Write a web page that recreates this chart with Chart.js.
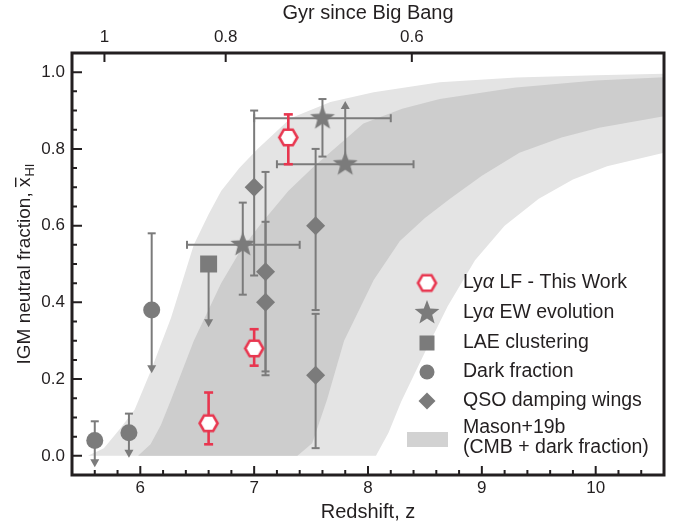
<!DOCTYPE html>
<html>
<head>
<meta charset="utf-8">
<script src="https://cdn.jsdelivr.net/npm/chart.js@4.4.0/dist/chart.umd.min.js"></script>
<style>
  html, body { margin: 0; padding: 0; background: #fff; }
</style>
</head>
<body>
<canvas id="myChart" width="678" height="527"></canvas>
<script>
// Lya LF - this work
const lfZ = [6.6, 7.0, 7.3];
const lfX = [0.085, 0.28, 0.83];
const lfLow = [0.03, 0.235, 0.76];
const lfHigh = [0.165, 0.33, 0.89];

// Lya EW evolution
const ewZ = [6.9, 7.6, 7.8];
const ewX = [0.55, 0.88, 0.76];
const ewLow = [0.42, 0.78, null];
const ewHigh = [0.66, 0.93, null];
const ewLimitUp = [null, null, 0.925];
const ewZLow = [6.41, 7.0, 7.2];
const ewZHigh = [7.4, 8.2, 8.4];

// LAE clustering (upper limit)
const laeZ = [6.6];
const laeX = [0.50];
const laeLimitDown = [0.335];

// dark fraction
const darkZ = [5.6, 5.9, 6.1];
const darkX = [0.04, 0.06, 0.38];
const darkHigh = [0.09, 0.11, 0.58];
const darkLimitDown = [-0.03, -0.005, 0.215];

// QSO damping wings
const qsoZ = [7.0, 7.1, 7.1, 7.54, 7.54];
const qsoX = [0.70, 0.48, 0.40, 0.60, 0.21];
const qsoLow = [0.47, 0.22, 0.21, 0.38, 0.02];
const qsoHigh = [0.90, 0.74, 0.61, 0.80, 0.37];

// Mason+19b band edges, [z, xHI]
const outerTop = [[5.54,0],[5.68,0.02],[5.82,0.07],[5.95,0.12],[6.09,0.22],[6.27,0.36],[6.47,0.55],[6.6,0.63],[6.71,0.69],[6.87,0.75],[7.03,0.80],[7.32,0.88],[7.67,0.922],[8.05,0.948],[8.63,0.974],[9.3,0.986],[10.0,0.992],[10.6,0.996]];
const outerBottom = [[5.54,0],[8.07,0],[8.18,0.06],[8.29,0.14],[8.5,0.27],[8.7,0.39],[8.94,0.51],[9.2,0.6],[9.5,0.67],[9.8,0.72],[10.1,0.755],[10.6,0.79]];
const innerTop = [[5.98,0],[6.09,0.03],[6.18,0.08],[6.27,0.146],[6.47,0.30],[6.71,0.45],[6.88,0.535],[7.06,0.605],[7.3,0.69],[7.52,0.753],[7.96,0.866],[8.3,0.905],[8.63,0.93],[9.3,0.96],[10.0,0.978],[10.6,0.987]];
const innerBottom = [[5.98,0],[7.38,0],[7.51,0.033],[7.64,0.146],[7.79,0.30],[8.05,0.458],[8.28,0.56],[8.5,0.62],[8.72,0.67],[9.0,0.73],[9.33,0.79],[9.7,0.83],[10.03,0.855],[10.6,0.885]];

// axes
const zTicks = [6, 7, 8, 9, 10];
const xhiTicks = [0, 0.2, 0.4, 0.6, 0.8, 1.0];
const gyrTickZ = [5.685, 6.75, 8.385];
const gyrTickLabels = ['1', '0.8', '0.6'];

const legendLabels = ['LF - This Work', 'EW evolution', 'LAE clustering', 'Dark fraction', 'QSO damping wings', 'Mason+19b', '(CMB + dark fraction)'];

const ink = '#231f20';
const grey = '#7b7b7b';
const red = '#e8364f';
const font = '"Liberation Sans", Arial, sans-serif';

function pts(xs, ys) { return xs.map((v, i) => ({x: v, y: ys[i]})); }
function polygon(top, bottom) {
  return top.concat(bottom.slice().reverse()).map(p => ({x: p[0], y: p[1]}));
}

function hexImage(r, lw) {
  const c = document.createElement('canvas');
  const s = Math.ceil(2 * r + lw + 2);
  c.width = s; c.height = s;
  const g = c.getContext('2d');
  g.translate(s / 2, s / 2);
  g.beginPath();
  for (let k = 0; k < 6; k++) {
    const a = k * Math.PI / 3;
    if (k) g.lineTo(r * Math.cos(a), r * Math.sin(a)); else g.moveTo(r, 0);
  }
  g.closePath();
  g.fillStyle = '#fff'; g.fill();
  g.lineWidth = lw; g.strokeStyle = red; g.stroke();
  return c;
}

function starImage(R) {
  const c = document.createElement('canvas');
  const s = Math.ceil(2 * R + 2);
  c.width = s; c.height = s;
  const g = c.getContext('2d');
  g.translate(s / 2, s / 2);
  g.beginPath();
  for (let k = 0; k < 10; k++) {
    const a = -Math.PI / 2 + k * Math.PI / 5;
    const rr = k % 2 ? R * 0.42 : R;
    if (k) g.lineTo(rr * Math.cos(a), rr * Math.sin(a)); else g.moveTo(0, -R);
  }
  g.closePath();
  g.fillStyle = grey; g.fill();
  return c;
}

const hexImg = hexImage(9, 2.6);
const starImg = starImage(13);

function drawErrorBars(chart) {
  const {ctx, scales} = chart;
  const X = v => scales.x.getPixelForValue(v);
  const Y = v => scales.y.getPixelForValue(v);
  const line = (x1, y1, x2, y2) => { ctx.beginPath(); ctx.moveTo(x1, y1); ctx.lineTo(x2, y2); ctx.stroke(); };
  const hcap = (x, y, w) => line(x - w, y, x + w, y);
  const vcap = (x, y, h) => line(x, y - h, x, y + h);
  const arrow = (x, tip, dir) => {
    ctx.beginPath();
    ctx.moveTo(x, tip);
    ctx.lineTo(x - 4.5, tip - dir * 8);
    ctx.lineTo(x + 4.5, tip - dir * 8);
    ctx.closePath(); ctx.fill();
  };
  ctx.save();
  ctx.strokeStyle = grey; ctx.fillStyle = grey; ctx.lineWidth = 2;

  darkZ.forEach((z, i) => {
    const px = X(z);
    line(px, Y(darkHigh[i]), px, Y(darkLimitDown[i]) - 7);
    hcap(px, Y(darkHigh[i]), 4);
    arrow(px, Y(darkLimitDown[i]), 1);
  });
  laeZ.forEach((z, i) => {
    const px = X(z);
    line(px, Y(laeX[i]), px, Y(laeLimitDown[i]) - 7);
    arrow(px, Y(laeLimitDown[i]), 1);
  });
  qsoZ.forEach((z, i) => {
    const px = X(z);
    line(px, Y(qsoLow[i]), px, Y(qsoHigh[i]));
    hcap(px, Y(qsoLow[i]), 4);
    hcap(px, Y(qsoHigh[i]), 4);
  });
  ewZ.forEach((z, i) => {
    const px = X(z), py = Y(ewX[i]);
    line(X(ewZLow[i]), py, X(ewZHigh[i]), py);
    vcap(X(ewZLow[i]), py, 4);
    vcap(X(ewZHigh[i]), py, 4);
    if (ewLimitUp[i] !== null) {
      line(px, py, px, Y(ewLimitUp[i]) + 7);
      arrow(px, Y(ewLimitUp[i]), -1);
    } else {
      line(px, Y(ewLow[i]), px, Y(ewHigh[i]));
      hcap(px, Y(ewLow[i]), 4);
      hcap(px, Y(ewHigh[i]), 4);
    }
  });

  ctx.strokeStyle = red; ctx.lineWidth = 2.6;
  lfZ.forEach((z, i) => {
    const px = X(z);
    line(px, Y(lfLow[i]), px, Y(lfHigh[i]));
    hcap(px, Y(lfLow[i]), 4.5);
    hcap(px, Y(lfHigh[i]), 4.5);
  });
  ctx.restore();
}

function drawFrame(chart) {
  const {ctx, chartArea: a, scales} = chart;
  ctx.save();
  ctx.strokeStyle = ink;
  ctx.lineWidth = 2;
  ctx.beginPath();
  for (let k = 28; k <= 52; k++) {
    const z = k / 5;
    if (z <= 5.4 || z >= 10.6) continue;
    const px = scales.x.getPixelForValue(z);
    const len = (k % 5 === 0) ? 9 : 5;
    ctx.moveTo(px, a.bottom); ctx.lineTo(px, a.bottom - len);
  }
  for (let k = 0; k <= 20; k++) {
    const py = scales.y.getPixelForValue(k * 0.05);
    const len = (k % 4 === 0) ? 10 : 5;
    ctx.moveTo(a.left, py); ctx.lineTo(a.left + len, py);
  }
  gyrTickZ.forEach(z => {
    const px = scales.x2.getPixelForValue(z);
    ctx.moveTo(px, a.top); ctx.lineTo(px, a.top + 9);
  });
  ctx.stroke();
  ctx.lineWidth = 3;
  ctx.strokeRect(a.left, a.top, a.right - a.left, a.bottom - a.top);
  ctx.restore();
}

function drawYTitle(chart) {
  const {ctx} = chart;
  ctx.save();
  ctx.fillStyle = ink;
  ctx.translate(30, 264);
  ctx.rotate(-Math.PI / 2);
  ctx.textBaseline = 'alphabetic';
  const main = 'IGM neutral fraction, ';
  const sub = 'HI';
  ctx.font = '19px ' + font;
  const w1 = ctx.measureText(main).width;
  const wx = ctx.measureText('x').width;
  ctx.font = '13px ' + font;
  const w3 = ctx.measureText(sub).width;
  const x0 = -(w1 + wx + 1 + w3) / 2;
  ctx.font = '19px ' + font;
  ctx.textAlign = 'left';
  ctx.fillText(main, x0, 0);
  ctx.fillText('x', x0 + w1, 0);
  ctx.fillRect(x0 + w1, -15, wx, 1.4);
  ctx.font = '13px ' + font;
  ctx.fillText(sub, x0 + w1 + wx + 1, 4);
  ctx.restore();
}

function drawLegend(chart) {
  const {ctx} = chart;
  const mx = 427, tx = 463;
  const rows = [283, 313, 343, 372, 401];
  ctx.save();
  ctx.fillStyle = grey;
  ctx.drawImage(hexImg, mx - hexImg.width / 2, rows[0] - hexImg.height / 2);
  ctx.drawImage(starImg, mx - starImg.width / 2, rows[1] - starImg.height / 2);
  ctx.fillRect(mx - 7.5, rows[2] - 7.5, 15, 15);
  ctx.beginPath(); ctx.arc(mx, rows[3], 7.5, 0, 2 * Math.PI); ctx.fill();
  ctx.beginPath();
  ctx.moveTo(mx - 8.5, rows[4]); ctx.lineTo(mx, rows[4] - 8.5);
  ctx.lineTo(mx + 8.5, rows[4]); ctx.lineTo(mx, rows[4] + 8.5);
  ctx.closePath(); ctx.fill();
  ctx.fillStyle = '#d2d2d2';
  ctx.fillRect(407, 432, 41, 15);

  ctx.fillStyle = ink;
  ctx.textBaseline = 'middle';
  ctx.textAlign = 'left';
  const size = '19.5px ';
  const lyaRow = (y, rest) => {
    ctx.font = size + font;
    ctx.fillText('Ly', tx, y);
    let x = tx + ctx.measureText('Ly').width;
    ctx.font = 'italic ' + size + font;
    ctx.fillText('α', x, y);
    x += ctx.measureText('α').width;
    ctx.font = size + font;
    ctx.fillText(' ' + rest, x, y);
  };
  lyaRow(rows[0], legendLabels[0]);
  lyaRow(rows[1], legendLabels[1]);
  ctx.font = size + font;
  ctx.fillText(legendLabels[2], tx, rows[2]);
  ctx.fillText(legendLabels[3], tx, rows[3]);
  ctx.fillText(legendLabels[4], tx, rows[4]);
  ctx.fillText(legendLabels[5], tx, 428);
  ctx.fillText(legendLabels[6], tx, 448);
  ctx.restore();
}

const overlay = {
  id: 'overlay',
  afterDatasetDraw(chart, args) {
    if (args.index === 6) drawErrorBars(chart);
  },
  afterDraw(chart) {
    drawFrame(chart);
    drawYTitle(chart);
    drawLegend(chart);
  }
};

const ctx = document.getElementById('myChart').getContext('2d');
const myChart = new Chart(ctx, {
  type: 'scatter',
  data: {
    datasets: [
      { label: 'Lyα LF - This Work', data: pts(lfZ, lfX), pointStyle: hexImg, pointRadius: 9 },
      { label: 'Lyα EW evolution', data: pts(ewZ, ewX), pointStyle: starImg, pointRadius: 12 },
      { label: 'LAE clustering', data: pts(laeZ, laeX), pointStyle: 'rect', pointRadius: 12,
        backgroundColor: grey, borderWidth: 0 },
      { label: 'Dark fraction', data: pts(darkZ, darkX), pointStyle: 'circle', pointRadius: 8.5,
        backgroundColor: grey, borderWidth: 0 },
      { label: 'QSO damping wings', data: pts(qsoZ, qsoX), pointStyle: 'rectRot', pointRadius: 9.5,
        backgroundColor: grey, borderWidth: 0 },
      { type: 'line', label: 'Mason+19b outer', data: polygon(outerTop, outerBottom), fill: 'shape',
        backgroundColor: '#e4e4e4', borderColor: 'rgba(0,0,0,0)', borderWidth: 0, pointRadius: 0,
        tension: 0, order: 2 },
      { type: 'line', label: 'Mason+19b inner', data: polygon(innerTop, innerBottom), fill: 'shape',
        backgroundColor: '#cdcdcd', borderColor: 'rgba(0,0,0,0)', borderWidth: 0, pointRadius: 0,
        tension: 0, order: 1 }
    ]
  },
  options: {
    responsive: false,
    animation: false,
    devicePixelRatio: 1,
    events: [],
    layout: { padding: { left: 0, right: 14, top: 0, bottom: 0 } },
    plugins: { legend: { display: false }, tooltip: { enabled: false } },
    scales: {
      x: {
        type: 'linear', position: 'bottom', min: 5.4, max: 10.6,
        afterBuildTicks: s => { s.ticks = zTicks.map(v => ({ value: v })); },
        afterFit: s => { s.height = 52; },
        grid: { display: false, drawTicks: false },
        border: { display: false },
        ticks: { padding: 3, color: ink, font: { family: font, size: 17 }, maxRotation: 0, autoSkip: false },
        title: { display: true, text: 'Redshift, z', color: ink, font: { family: font, size: 20 },
          padding: { top: 0, bottom: 3 } }
      },
      x2: {
        type: 'linear', position: 'top', min: 5.4, max: 10.6,
        afterBuildTicks: s => { s.ticks = gyrTickZ.map(v => ({ value: v })); },
        afterFit: s => { s.height = 53; },
        grid: { display: false, drawTicks: false },
        border: { display: false },
        ticks: { padding: 5, color: ink, font: { family: font, size: 17 }, maxRotation: 0, autoSkip: false,
          callback: (v, i) => gyrTickLabels[i] },
        title: { display: true, text: 'Gyr since Big Bang', color: ink, font: { family: font, size: 20 },
          padding: { top: 1, bottom: 0 } }
      },
      y: {
        type: 'linear', min: -0.05, max: 1.05,
        afterBuildTicks: s => { s.ticks = xhiTicks.map(v => ({ value: v })); },
        afterFit: s => { s.width = 72; },
        grid: { display: false, drawTicks: false },
        border: { display: false },
        ticks: { padding: 7, color: ink, font: { family: font, size: 17 },
          callback: v => v.toFixed(1) }
      }
    }
  },
  plugins: [overlay]
});
</script>
</body>
</html>
